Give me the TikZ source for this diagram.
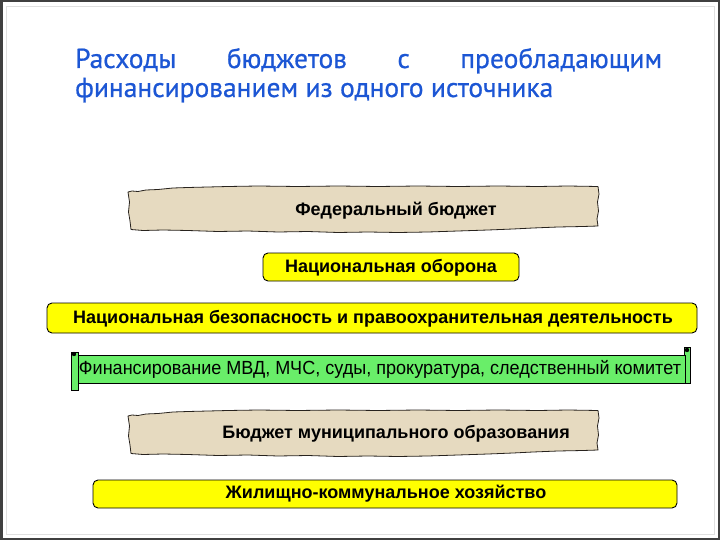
\documentclass[tikz,border=0pt]{standalone}
\usepackage{fontspec}
\usepackage{graphicx}
\setmainfont{Liberation Sans}
\newfontfamily\titlefont[FakeBold=0.7]{PT Sans}
\definecolor{titleblue}{RGB}{28,86,212}
\definecolor{paper}{RGB}{230,218,192}
\definecolor{paperedge}{RGB}{40,35,30}
\definecolor{boxyellow}{RGB}{255,255,0}
\definecolor{scrollgreen}{RGB}{105,238,105}
\definecolor{framedark}{RGB}{64,64,64}
\tikzset{
  titletext/.style={font=\titlefont\fontsize{27.5}{31}\selectfont, text=titleblue, inner sep=0pt, anchor=base west},
  boldtext/.style={font=\bfseries\fontsize{18}{21}\selectfont, inner sep=0pt},
  plaintext/.style={font=\fontsize{19}{22}\selectfont, inner sep=0pt},
  yellowbox/.style={fill=boxyellow, draw=black, line width=0.9pt, rounded corners=5pt},
  papershape/.style={fill=paper, draw=paperedge, line width=0.8pt, line join=round},
  scrollpart/.style={fill=scrollgreen, draw=black, line width=0.9pt},
  tornpaper/.pic={
    \path[papershape] (0,6) -- (4,5) -- (10,5.5) -- (18,4) -- (30,3.5) -- (45,2) -- (60,1.5) -- (80,1) -- (100,0.5)
      -- (130,0) -- (170,0.5) -- (210,0) -- (250,0.5) -- (290,0) -- (330,0.5) -- (370,0) -- (410,0.5) -- (440,0) -- (470,0.5)
      -- (471,8) -- (469.5,16) -- (470.5,25) -- (469,33) -- (470,40)
      -- (455,40.5) -- (430,41) -- (405,42) -- (385,43) -- (360,44) -- (330,45) -- (300,46) -- (270,46.5) -- (240,46)
      -- (210,46.5) -- (180,45.5) -- (150,46) -- (120,45) -- (90,45.5) -- (60,44.5) -- (35,44) -- (15,44.5) -- (3,43.5)
      -- (2,35) -- (0.5,26) -- (1.5,16) -- cycle;
  }
}
\begin{document}
\begin{tikzpicture}[x=1pt,y=-1pt]
\useasboundingbox (0,0) rectangle (720,540);
% slide frame
\draw[framedark, line width=2.5pt] (1.25,1.25) rectangle (718.75,538.75);
\draw[black!12, line width=0.7pt] (6,6) rectangle (714,534);

% title
\node[titletext] (title1) at (75,68) {\hbox to 587pt{Расходы\hfill бюджетов\hfill с\hfill преобладающим}};
\node[titletext] (title2) at (75,97) {финансированием из одного источника};

% federal budget (torn paper)
\pic at (128,186) {tornpaper};
\node[boldtext] (fed) at (396,211) {Федеральный бюджет};

% national defence
\path[yellowbox] (263,253) rectangle (519,281);
\node[boldtext] (def) at (391,267.5) {Национальная оборона};

% national security
\path[yellowbox] (47,303) rectangle (697,333);
\node[boldtext] (sec) at (373,318.5) {Национальная безопасность и правоохранительная деятельность};

% scroll
\path[scrollpart] (684,347) -- (690,347) -- (690,383.5) -- (684,383.5) -- cycle;
\fill[black] (687,350) circle (2.2pt);
\path[scrollpart] (77,355) rectangle (685,383.5);
\path[scrollpart] (71,352) -- (78,352) -- (78,390) -- (71,390) -- cycle;
\fill[black] (74,354) circle (2.2pt);
\node[plaintext] (fin) at (380,369.5) {\scalebox{0.95}[1]{Финансирование МВД, МЧС, суды, прокуратура, следственный комитет}};

% municipal budget (torn paper)
\pic at (128,410) {tornpaper};
\node[boldtext] (mun) at (396,434) {Бюджет муниципального образования};

% housing
\path[yellowbox] (93,480) rectangle (677,508);
\node[boldtext] (hous) at (386,494) {Жилищно-коммунальное хозяйство};
\end{tikzpicture}
\end{document}
